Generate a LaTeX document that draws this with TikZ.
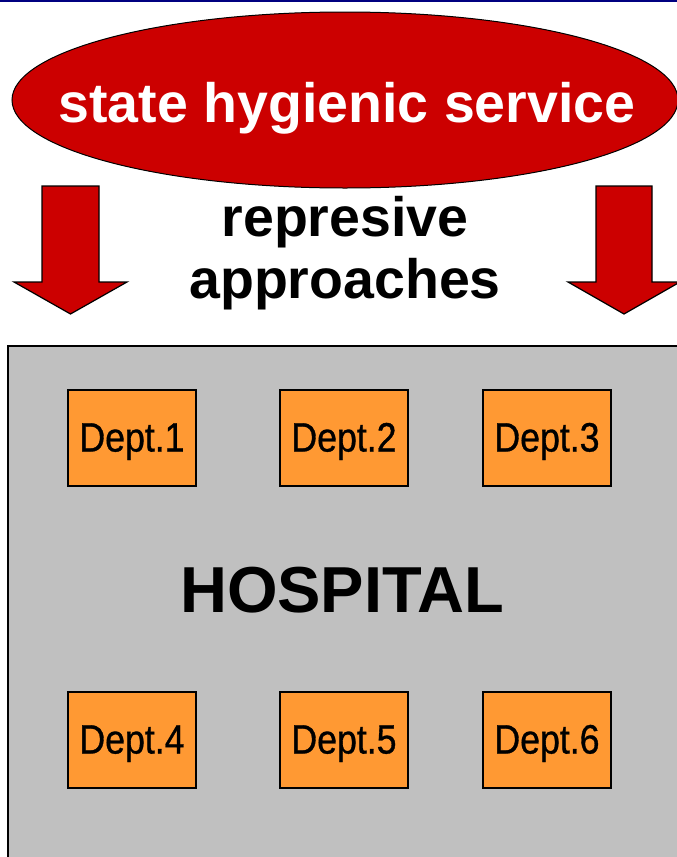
\documentclass[tikz,border=0pt]{standalone}
\usepackage{fontspec}
\setmainfont{Liberation Sans}
\newfontfamily\deptfont[FakeStretch=0.87,FakeBold=0.8]{Liberation Sans}
\usetikzlibrary{shapes.geometric}
\definecolor{shsred}{HTML}{CC0000}
\definecolor{deptorange}{HTML}{FF9933}
\definecolor{hospgray}{HTML}{C0C0C0}
\definecolor{topnavy}{HTML}{000080}
\tikzset{
  bigarrow/.style={draw=black, line width=1.2pt, fill=shsred, line join=miter},
  deptbox/.style={draw=black, line width=1.5pt, fill=deptorange, minimum width=128pt, minimum height=96pt, inner sep=0pt, text height=27pt, text depth=0pt, font=\deptfont\fontsize{41}{45}\selectfont},
  bigtext/.style={font=\bfseries\fontsize{55.5}{60}\selectfont, inner sep=0pt, anchor=base}
}
\begin{document}
\begin{tikzpicture}[x=1pt,y=-1pt]
\useasboundingbox (0,0) rectangle (677,857);
\fill[white] (0,0) rectangle (677,857);
\draw[topnavy, line width=2.5pt] (0,1) -- (677,1);
% ellipse
\node[ellipse, draw=black, line width=1pt, fill=shsred, minimum width=666pt, minimum height=176pt, inner sep=0pt] (shs) at (345,100) {};
\node[bigtext, text=white] (shslabel) at (347,122) {state hygienic service};
% arrows
\draw[bigarrow] (42,186) -- (99,186) -- (99,282) -- (127,282) -- (70.5,314) -- (14,282) -- (42,282) -- cycle;
\draw[bigarrow] (596,186) -- (652,186) -- (652,282) -- (680,282) -- (624,314) -- (568,282) -- (596,282) -- cycle;
\node[bigtext] (rep) at (345,236) {represive};
\node[bigtext] (appr) at (345,298) {approaches};
% hospital
\fill[hospgray] (8,346) rectangle (690,870);
\draw[black, line width=1.6pt] (8,870) -- (8,346) -- (690,346);
\node[font=\bfseries\fontsize{65}{70}\selectfont, inner sep=0pt, anchor=base] (hosp) at (342,612) {HOSPITAL};
\node[deptbox] (d1) at (132,438) {Dept.1};
\node[deptbox] (d2) at (344,438) {Dept.2};
\node[deptbox] (d3) at (547,438) {Dept.3};
\node[deptbox] (d4) at (132,740) {Dept.4};
\node[deptbox] (d5) at (344,740) {Dept.5};
\node[deptbox] (d6) at (547,740) {Dept.6};
\end{tikzpicture}
\end{document}
